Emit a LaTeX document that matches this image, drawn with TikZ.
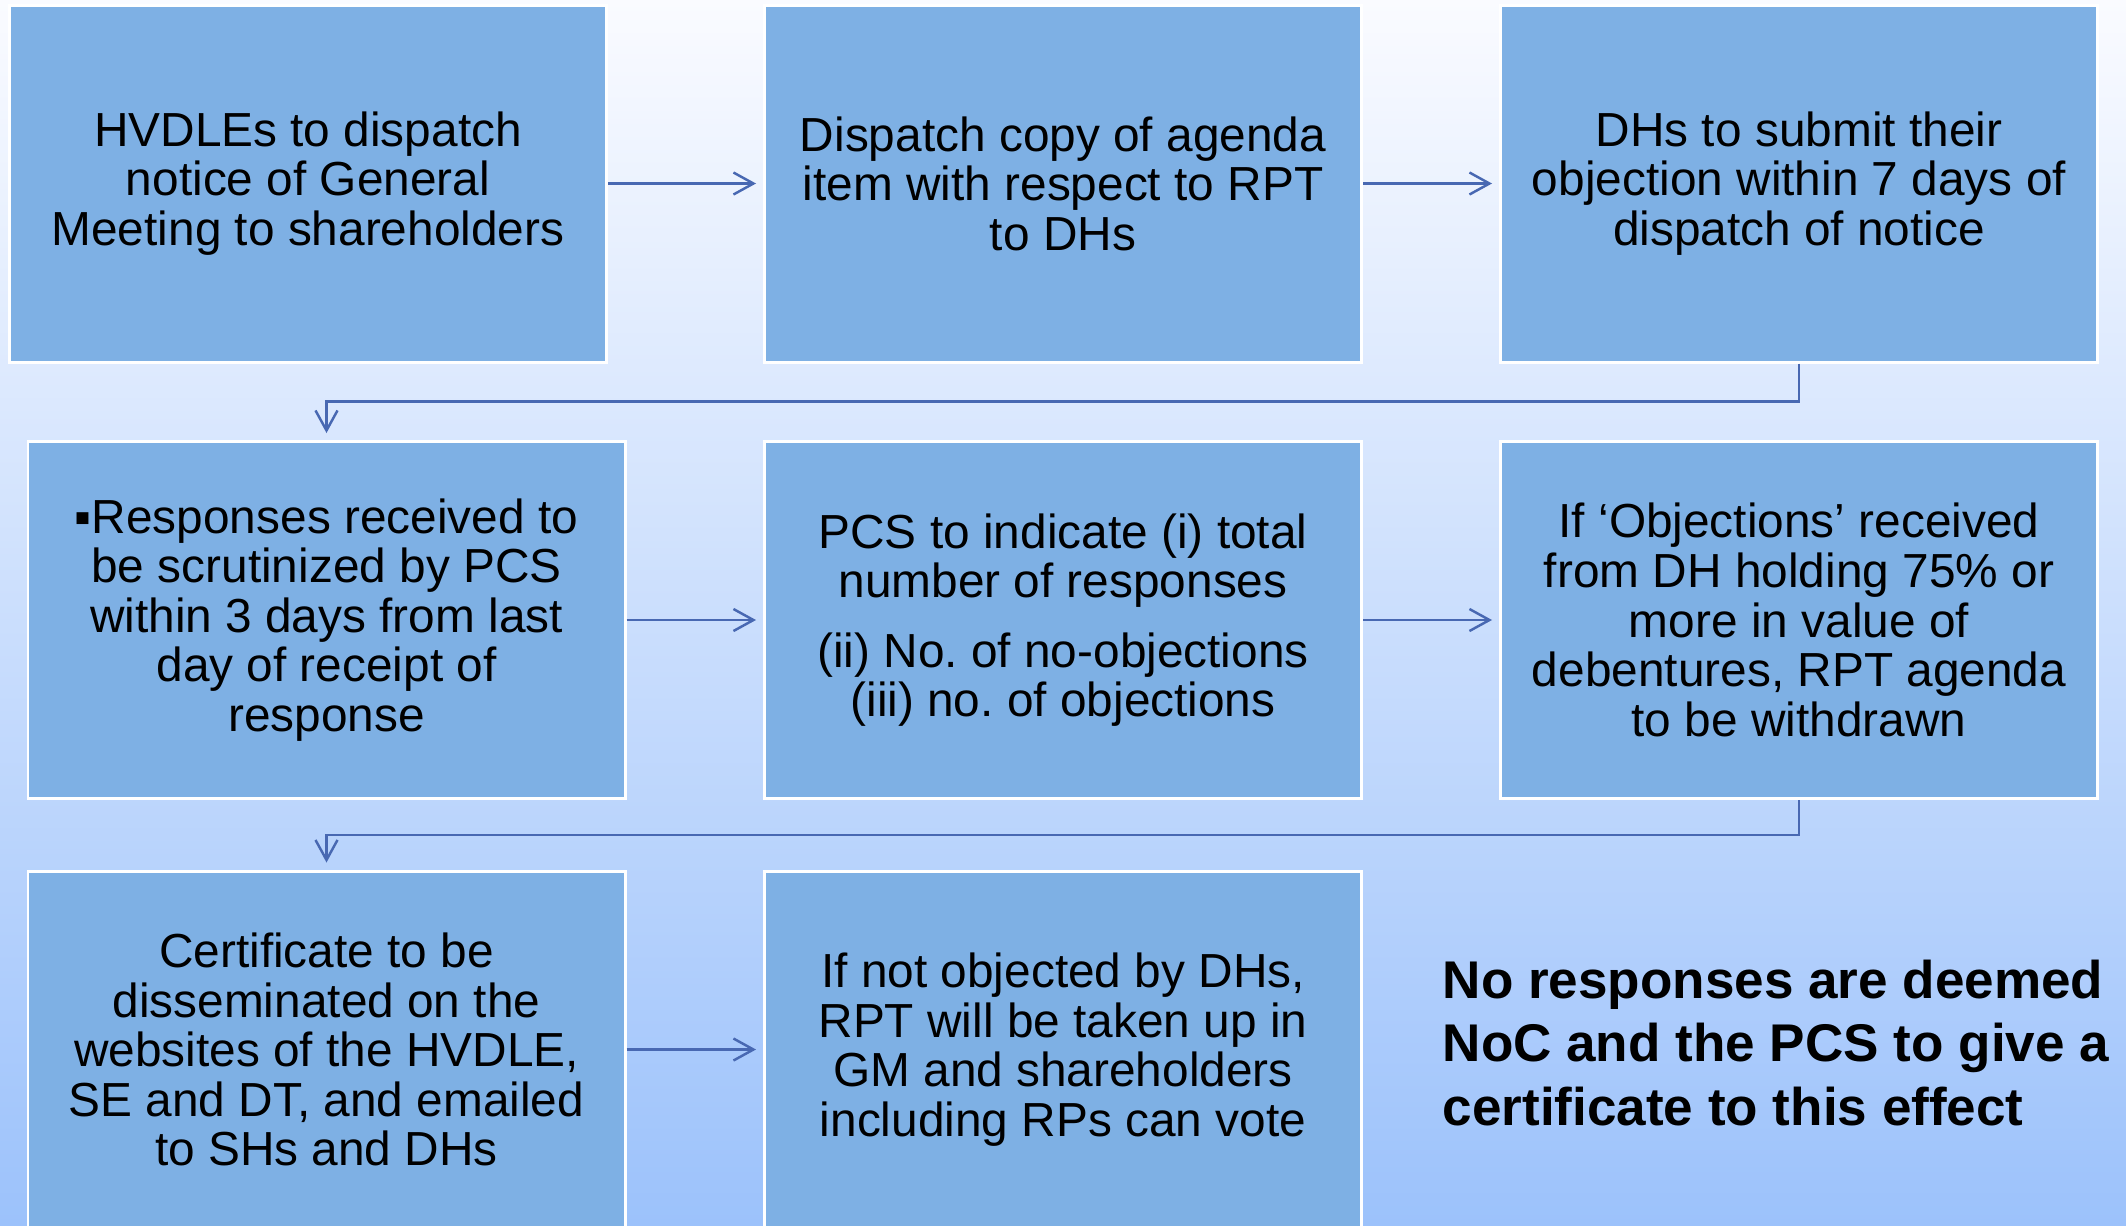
\documentclass[tikz,border=0pt]{standalone}
\usepackage{fontspec}
\setmainfont{Liberation Sans}
\frenchspacing
\usetikzlibrary{arrows.meta}
\definecolor{boxblue}{RGB}{126,176,228}
\definecolor{linkblue}{RGB}{72,104,178}
\definecolor{bgtop}{RGB}{250,251,255}
\definecolor{bgbottom}{RGB}{156,194,251}

\begin{document}
\begin{tikzpicture}[x=0.1mm, y=-0.1mm,
    stage/.style={draw=white, line width=0.85pt, fill=boxblue, inner sep=0pt,
      minimum width=59.7mm, minimum height=35.7mm, align=center,
      font=\fontsize{13.6pt}{14.1pt}\selectfont},
    flow/.style={draw=linkblue, line width=0.7pt,
      -{Straight Barb[length=2mm,width=2.2mm]}, shorten >=0.7mm},
    note/.style={anchor=west, align=left, inner sep=0pt,
      font=\fontsize{15.1pt}{18.1pt}\selectfont\bfseries}]
		% Background
		\shade[top color=bgtop, bottom color=bgbottom] (0,0) rectangle (2126,1225);
		\useasboundingbox (0,0) rectangle (2126,1225);

		% First row
		\node[stage] (notice) at (308,183.5) {HVDLEs to dispatch\\ notice of General\\ Meeting to shareholders};
		\node[stage] (agenda) at (1063,183.5) {Dispatch copy of agenda\\ item with respect to RPT\\ to DHs};
		\node[stage] (objection) at (1799,183.5) {DHs to submit their\\ objection within 7 days of\\ dispatch of notice};

		% Second row
		\node[stage] (scrutiny) at (326.5,620) {▪Responses received to\\ be scrutinized by PCS\\ within 3 days from last\\ day of receipt of\\ response};
		\node[stage] (count) at (1063,620) {PCS to indicate (i) total\\ number of responses\\[5.7pt] (ii) No. of no-objections\\ (iii) no. of objections};
		\node[stage] (withdraw) at (1799,620) {If ‘Objections’ received\\ from DH holding 75\% or\\ more in value of\\ debentures, RPT agenda\\ to be withdrawn};

		% Third row
		\node[stage] (certificate) at (326.5,1049.5) {Certificate to be\\ disseminated on the\\ websites of the HVDLE,\\ SE and DT, and emailed\\ to SHs and DHs};
		\node[stage] (vote) at (1063,1049.5) {If not objected by DHs,\\ RPT will be taken up in\\ GM and shareholders\\ including RPs can vote};
		\node[note] (deemed) at (1442,1043) {No responses are deemed\\ NoC and the PCS to give a\\ certificate to this effect};

		% Arrows
		\draw[flow] (notice) -- (agenda);
		\draw[flow] (agenda) -- (objection);
		\draw[flow] (objection.south) -- ++(0,38) -| (scrutiny.north);
		\draw[flow] (scrutiny) -- (count);
		\draw[flow] (count) -- (withdraw);
		\draw[flow] (withdraw.south) -- ++(0,35) -| (certificate.north);
		\draw[flow] (certificate) -- (vote);
	\end{tikzpicture}
\end{document}
